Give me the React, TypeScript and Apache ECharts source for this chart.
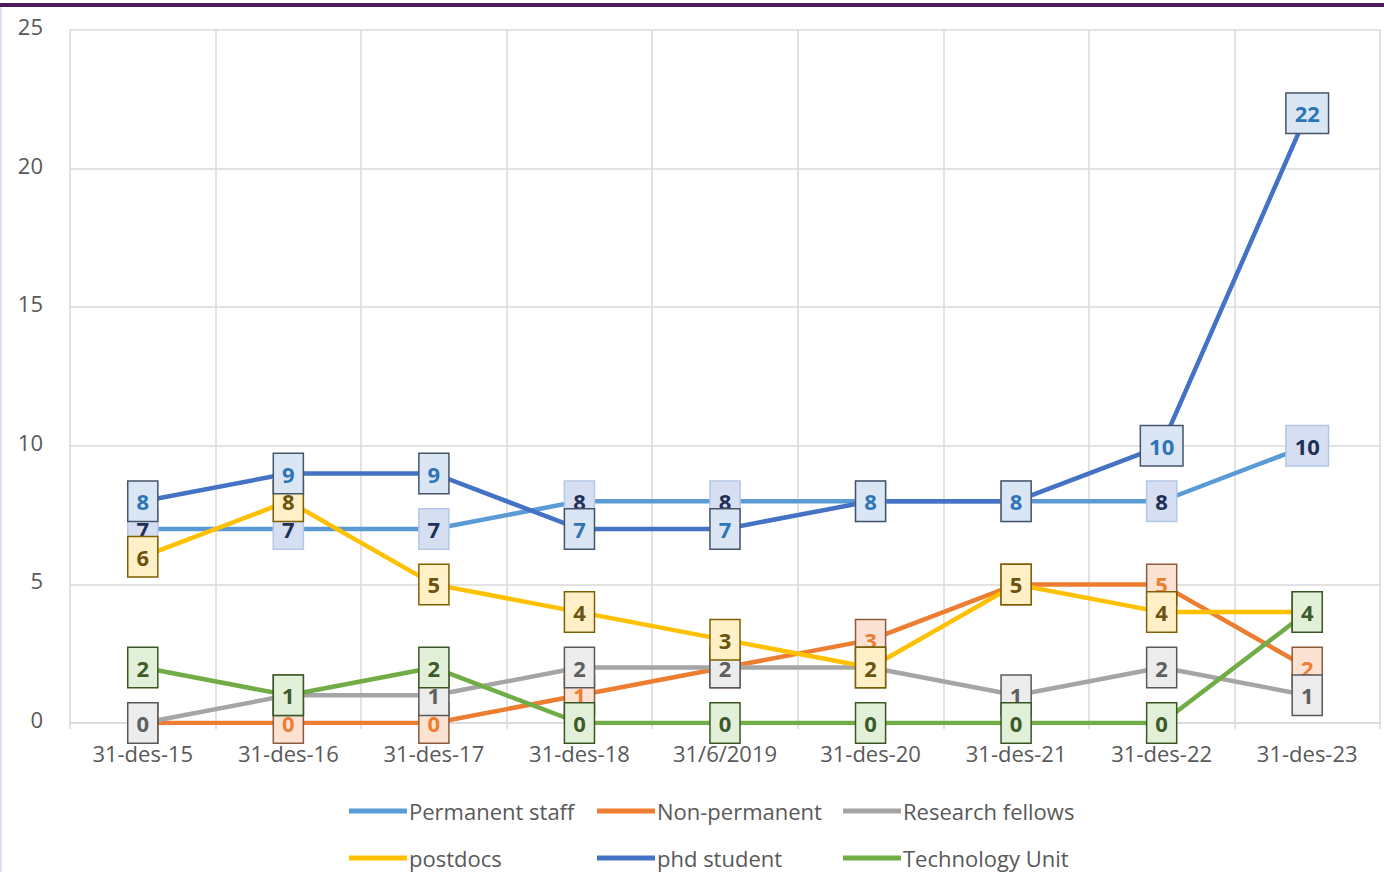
import React, { useEffect, useRef } from "react";
import * as echarts from "echarts";

const categories = ["31-des-15", "31-des-16", "31-des-17", "31-des-18", "31/6/2019", "31-des-20", "31-des-21", "31-des-22", "31-des-23"];
const permanentStaff = [7, 7, 7, 8, 8, 8, 8, 8, 10];
const nonPermanent = [0, 0, 0, 1, 2, 3, 5, 5, 2];
const researchFellows = [0, 1, 1, 2, 2, 2, 1, 2, 1];
const postdocs = [6, 8, 5, 4, 3, 2, 5, 4, 4];
const phdStudent = [8, 9, 9, 7, 7, 8, 8, 10, 22];
const technologyUnit = [2, 1, 2, 0, 0, 0, 0, 0, 4];
const yTicks = { min: 0, max: 25, interval: 5 };

const FONT = "'Open Sans', 'Noto Sans', sans-serif";

const seriesDefs = [
  { name: "Permanent staff", data: permanentStaff, color: "#5b9bd5", fill: "#d6def2", border: "#b4c7e7", text: "#1f3057" },
  { name: "Non-permanent", data: nonPermanent, color: "#ed7d31", fill: "#fbe2d3", border: "#8c5a3c", text: "#ed7d31" },
  { name: "Research fellows", data: researchFellows, color: "#a5a5a5", fill: "#ececec", border: "#595959", text: "#5f5f5f" },
  { name: "postdocs", data: postdocs, color: "#ffc000", fill: "#fff0c8", border: "#7f6000", text: "#6b5410" },
  { name: "phd student", data: phdStudent, color: "#4472c4", fill: "#dbe6f4", border: "#44546a", text: "#2e75b6" },
  { name: "Technology Unit", data: technologyUnit, color: "#70ad47", fill: "#e2efd9", border: "#385723", text: "#3d5a2a" },
];

const legendCols = [344, 592, 838];
const legendRows = [795, 842];

export default function App() {
  const ref = useRef<HTMLDivElement>(null);
  useEffect(() => {
    const chart = echarts.init(ref.current!, null, { renderer: "svg" });
    const lines = seriesDefs.map((s) => ({
      name: s.name,
      type: "line",
      data: s.data,
      z: 2,
      symbol: "none",
      lineStyle: { color: s.color, width: 4.5 },
      itemStyle: { color: s.color },
    }));
    const labels = seriesDefs.map((s, i) => ({
      name: "lbl " + s.name,
      type: "scatter",
      data: s.data,
      z: 10 + i,
      symbolSize: 1,
      itemStyle: { color: "rgba(0,0,0,0)", opacity: 1 },
      emphasis: { disabled: true },
      label: {
        show: true,
        position: "inside",
        formatter: (p: any) => String(p.value),
        color: s.text,
        backgroundColor: s.fill,
        borderColor: s.border,
        borderWidth: 1.5,
        padding: [2, 8, 2, 8],
        height: 35,
        lineHeight: 35,
        fontSize: 22,
        fontWeight: "bold",
        fontFamily: FONT,
      },
    }));
    const legends = seriesDefs.map((s, i) => ({
      left: legendCols[i % 3],
      top: legendRows[Math.floor(i / 3)],
      itemGap: 0,
      itemWidth: 58,
      itemHeight: 5,
      icon: "rect",
      data: [s.name],
      textStyle: { fontSize: 22, color: "#595959", fontFamily: FONT, padding: [0, 0, 0, -3] },
    }));
    chart.setOption({
      animation: false,
      textStyle: { fontFamily: FONT },
      graphic: [
        { type: "rect", shape: { x: 0, y: 3, width: 1384, height: 4 }, style: { fill: "#4e1a5e" } },
        { type: "rect", shape: { x: 0, y: 7, width: 2, height: 865 }, style: { fill: "#e6dcef" } },
      ],
      grid: { left: 70, right: 4, top: 30, bottom: 149 },
      legend: legends,
      xAxis: {
        type: "category",
        data: categories,
        boundaryGap: true,
        axisLine: { lineStyle: { color: "#d9d9d9", width: 1.5 } },
        axisTick: { show: true, length: 6, lineStyle: { color: "#d9d9d9", width: 1.5 } },
        axisLabel: { color: "#595959", fontSize: 22, margin: 19, fontFamily: FONT },
        splitLine: { show: true, lineStyle: { color: "#d9d9d9", width: 1.5 } },
      },
      yAxis: {
        type: "value",
        min: yTicks.min,
        max: yTicks.max,
        interval: yTicks.interval,
        axisLine: { show: false },
        axisTick: { show: false },
        axisLabel: { color: "#595959", fontSize: 22, margin: 27, fontFamily: FONT, verticalAlign: "bottom", lineHeight: 8 },
        splitLine: { lineStyle: { color: "#d9d9d9", width: 1.5 } },
      },
      series: [...lines, ...labels],
    });
    return () => chart.dispose();
  }, []);
  return <div ref={ref} style={{ position: "fixed", left: 0, top: 0, width: 1384, height: 872, background: "#fff" }} />;
}
